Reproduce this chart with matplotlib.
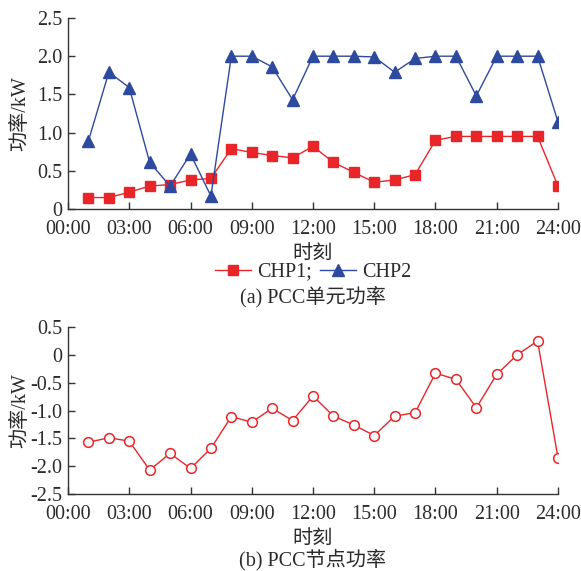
import matplotlib
matplotlib.use("Agg")
import matplotlib.pyplot as plt
from matplotlib.lines import Line2D

plt.rcParams['font.family'] = ['Liberation Serif', 'Noto Sans CJK SC']
plt.rcParams['axes.unicode_minus'] = False

hours = list(range(1, 25))
chp1 = [0.15, 0.15, 0.22, 0.30, 0.32, 0.38, 0.40, 0.79, 0.74, 0.70, 0.67, 0.82,
        0.61, 0.48, 0.35, 0.38, 0.45, 0.90, 0.95, 0.95, 0.95, 0.95, 0.95, 0.30]
chp2 = [0.89, 1.79, 1.59, 0.61, 0.30, 0.72, 0.17, 2.00, 2.00, 1.86, 1.43, 2.00,
        2.00, 2.00, 1.99, 1.79, 1.97, 2.00, 2.00, 1.48, 2.00, 2.00, 2.00, 1.14]
pcc = [-1.57, -1.49, -1.55, -2.07, -1.77, -2.04, -1.68, -1.11, -1.21, -0.96, -1.18, -0.74,
       -1.10, -1.26, -1.45, -1.10, -1.04, -0.33, -0.44, -0.95, -0.35, 0.00, 0.25, -1.85]
xticks = [0, 3, 6, 9, 12, 15, 18, 21, 24]
xticklabels = ["00:00", "03:00", "06:00", "09:00", "12:00", "15:00", "18:00", "21:00", "24:00"]
top_yticks = [0, 0.5, 1.0, 1.5, 2.0, 2.5]
top_yticklabels = ["0", "0.5", "1.0", "1.5", "2.0", "2.5"]
bot_yticks = [0.5, 0, -0.5, -1.0, -1.5, -2.0, -2.5]
bot_yticklabels = ["0.5", "0", "-0.5", "-1.0", "-1.5", "-2.0", "-2.5"]

RED = '#e8262a'
BLUE = '#2e4a9e'
TXT = '#2b2b2b'
W, H = 581, 571
fig = plt.figure(figsize=(W / 100, H / 100), dpi=100)
L, R = 68 / W, 558 / W

def style(ax, yt, ytl, ylim):
    ax.set_xlim(0, 24)
    ax.set_ylim(*ylim)
    ax.set_xticks(xticks)
    ax.set_xticklabels(xticklabels)
    ax.set_yticks(yt)
    ax.set_yticklabels(ytl)
    for s in ['top', 'right']:
        ax.spines[s].set_visible(False)
    for s in ['left', 'bottom']:
        ax.spines[s].set_color('#333333')
        ax.spines[s].set_linewidth(1.0)
    ax.tick_params(direction='in', length=5, width=1, colors='#333333',
                   labelcolor=TXT, labelsize=14.5, pad=4)
    ax.tick_params(axis='x', pad=8)
    ax.set_ylabel('功率/kW', fontsize=14.5, color=TXT)
    ax.yaxis.set_label_coords((30 - 68) / 490, 0.5)
    ax.set_xlabel('时刻', fontsize=14.5, color=TXT, labelpad=4)

ax1 = fig.add_axes([L, 1 - 209 / H, R - L, (209 - 18) / H])
ax1.plot(hours, chp1, color=RED, lw=1.0, marker='s', ms=6.5, mfc=RED, mec=RED)
ax1.plot(hours, chp2, color=BLUE, lw=1.0, marker='^', ms=8, mfc=BLUE, mec=BLUE)
style(ax1, top_yticks, top_yticklabels, (0, 2.5))

handles = [Line2D([], [], color=RED, lw=1.0, marker='s', ms=6.5),
           Line2D([], [], color=BLUE, lw=1.0, marker='^', ms=8)]
fig.legend(handles, ['CHP1;', 'CHP2'], ncol=2, frameon=False, loc='center',
           bbox_to_anchor=(313 / W, 1 - 272 / H), fontsize=14.5, handlelength=1.8,
           handletextpad=0.3, columnspacing=0.4, labelcolor=TXT,
           borderpad=0.1)
fig.text(313 / W, 1 - 297 / H, '(a) PCC单元功率', ha='center', va='center',
         fontsize=14.5, color=TXT)

ax2 = fig.add_axes([L, 1 - 494 / H, R - L, (494 - 327) / H])
ax2.plot(hours, pcc, color=RED, lw=1.0, marker='o', ms=7, mfc='white', mec=RED, mew=1.1)
style(ax2, bot_yticks, bot_yticklabels, (-2.5, 0.5))
fig.text(313 / W, 1 - 560 / H, '(b) PCC节点功率', ha='center', va='center',
         fontsize=14.5, color=TXT)

fig.savefig('out.png', dpi=100)
